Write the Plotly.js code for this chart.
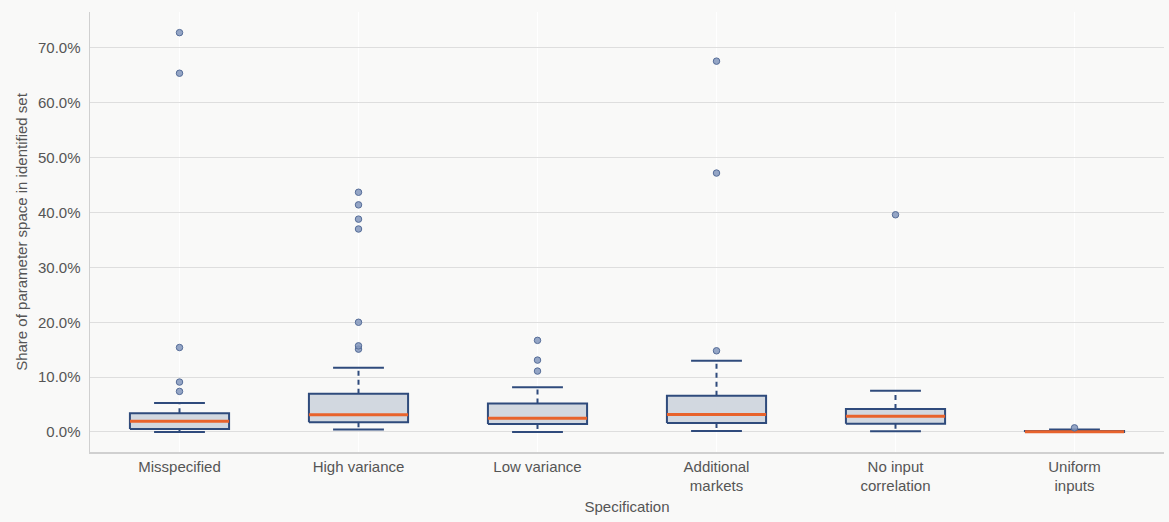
<!DOCTYPE html>
<html>
<head>
<meta charset="utf-8">
<script src="https://cdn.plot.ly/plotly-3.0.1.min.js"></script>
<style>html,body{margin:0;padding:0;background:#f9f9f8;}#chart{width:1169px;height:522px;}</style>
</head>
<body>
<div id="chart"></div>
<script>
// Data (values in percent)
const categories = ["Misspecified", "High variance", "Low variance", "Additional<br>markets", "No input<br>correlation", "Uniform<br>inputs"];
const q1 = [0.55, 1.77, 1.46, 1.64, 1.5, 0.0];
const medians = [1.95, 3.15, 2.5, 3.2, 2.85, 0.05];
const q3 = [3.4, 6.98, 5.2, 6.6, 4.2, 0.2];
const lowerWhisker = [0.0, 0.43, 0.0, 0.18, 0.12, 0.0];
const upperWhisker = [5.3, 11.7, 8.15, 13.0, 7.5, 0.45];
const outliers = [
  [7.4, 9.1, 15.4, 65.4, 72.8],
  [15.1, 15.7, 20.0, 37.0, 38.8, 41.4, 43.7],
  [11.1, 13.1, 16.7],
  [14.8, 47.2, 67.6],
  [39.6],
  [0.75]
];
const yTicks = [0, 10, 20, 30, 40, 50, 60, 70];

const boxHalf = 0.277;
const capHalf = 0.142;
const blue = '#2f4b7c';
const orange = '#e8632c';

const traces = [];
categories.forEach((c, i) => {
  traces.push({
    type: 'scatter', mode: 'lines', hoverinfo: 'skip', showlegend: false,
    x: [i, i, null, i, i], y: [q1[i], lowerWhisker[i], null, q3[i], upperWhisker[i]],
    line: {color: blue, width: 2, dash: '5px,4px'}
  });
  traces.push({
    type: 'scatter', mode: 'lines', hoverinfo: 'skip', showlegend: false,
    x: [i - capHalf, i + capHalf, null, i - capHalf, i + capHalf],
    y: [lowerWhisker[i], lowerWhisker[i], null, upperWhisker[i], upperWhisker[i]],
    line: {color: blue, width: 2}
  });
  traces.push({
    type: 'scatter', mode: 'lines', hoverinfo: 'skip', showlegend: false,
    x: [i - boxHalf, i + boxHalf, i + boxHalf, i - boxHalf, i - boxHalf],
    y: [q1[i], q1[i], q3[i], q3[i], q1[i]],
    fill: 'toself', fillcolor: '#d2d8e0',
    line: {color: blue, width: 2}
  });
  traces.push({
    type: 'scatter', mode: 'lines', hoverinfo: 'skip', showlegend: false,
    x: [i - boxHalf, i + boxHalf], y: [medians[i], medians[i]],
    line: {color: orange, width: 3}
  });
  traces.push({
    type: 'scatter', mode: 'markers', showlegend: false,
    x: outliers[i].map(() => i), y: outliers[i],
    marker: {size: 6.5, color: 'rgba(130,150,188,0.85)', line: {color: '#566d98', width: 1}}
  });
});

const layout = {
  width: 1169, height: 522,
  margin: {l: 90, r: 5, t: 12, b: 70},
  paper_bgcolor: '#f9f9f8', plot_bgcolor: '#f9f9f8',
  font: {family: 'Liberation Sans, Arial, sans-serif', size: 15, color: '#555'},
  xaxis: {
    range: [-0.5, 5.5],
    tickvals: categories.map((c, i) => i), ticktext: categories,
    showgrid: true, gridcolor: '#ffffff', gridwidth: 1,
    zeroline: false, showline: true, linecolor: '#d0d0d0', linewidth: 1.5,
    ticks: '', ticklen: 0,
    tickfont: {size: 15, color: '#555'},
    title: {text: 'Specification', font: {size: 15, color: '#555'}, standoff: 8}
  },
  yaxis: {
    range: [-3.65, 76.56],
    tickvals: yTicks, ticktext: yTicks.map(v => v.toFixed(1) + '%'),
    showgrid: true, gridcolor: '#dedede', gridwidth: 1,
    zeroline: false, showline: true, linecolor: '#d0d0d0', linewidth: 1.5,
    ticks: 'outside', ticklen: 5, tickcolor: 'rgba(0,0,0,0)',
    tickfont: {size: 15, color: '#555'},
    title: {text: 'Share of parameter space in identified set', font: {size: 15, color: '#555'}, standoff: 6}
  }
};

Plotly.newPlot('chart', traces, layout, {displayModeBar: false, staticPlot: true});
</script>
</body>
</html>
